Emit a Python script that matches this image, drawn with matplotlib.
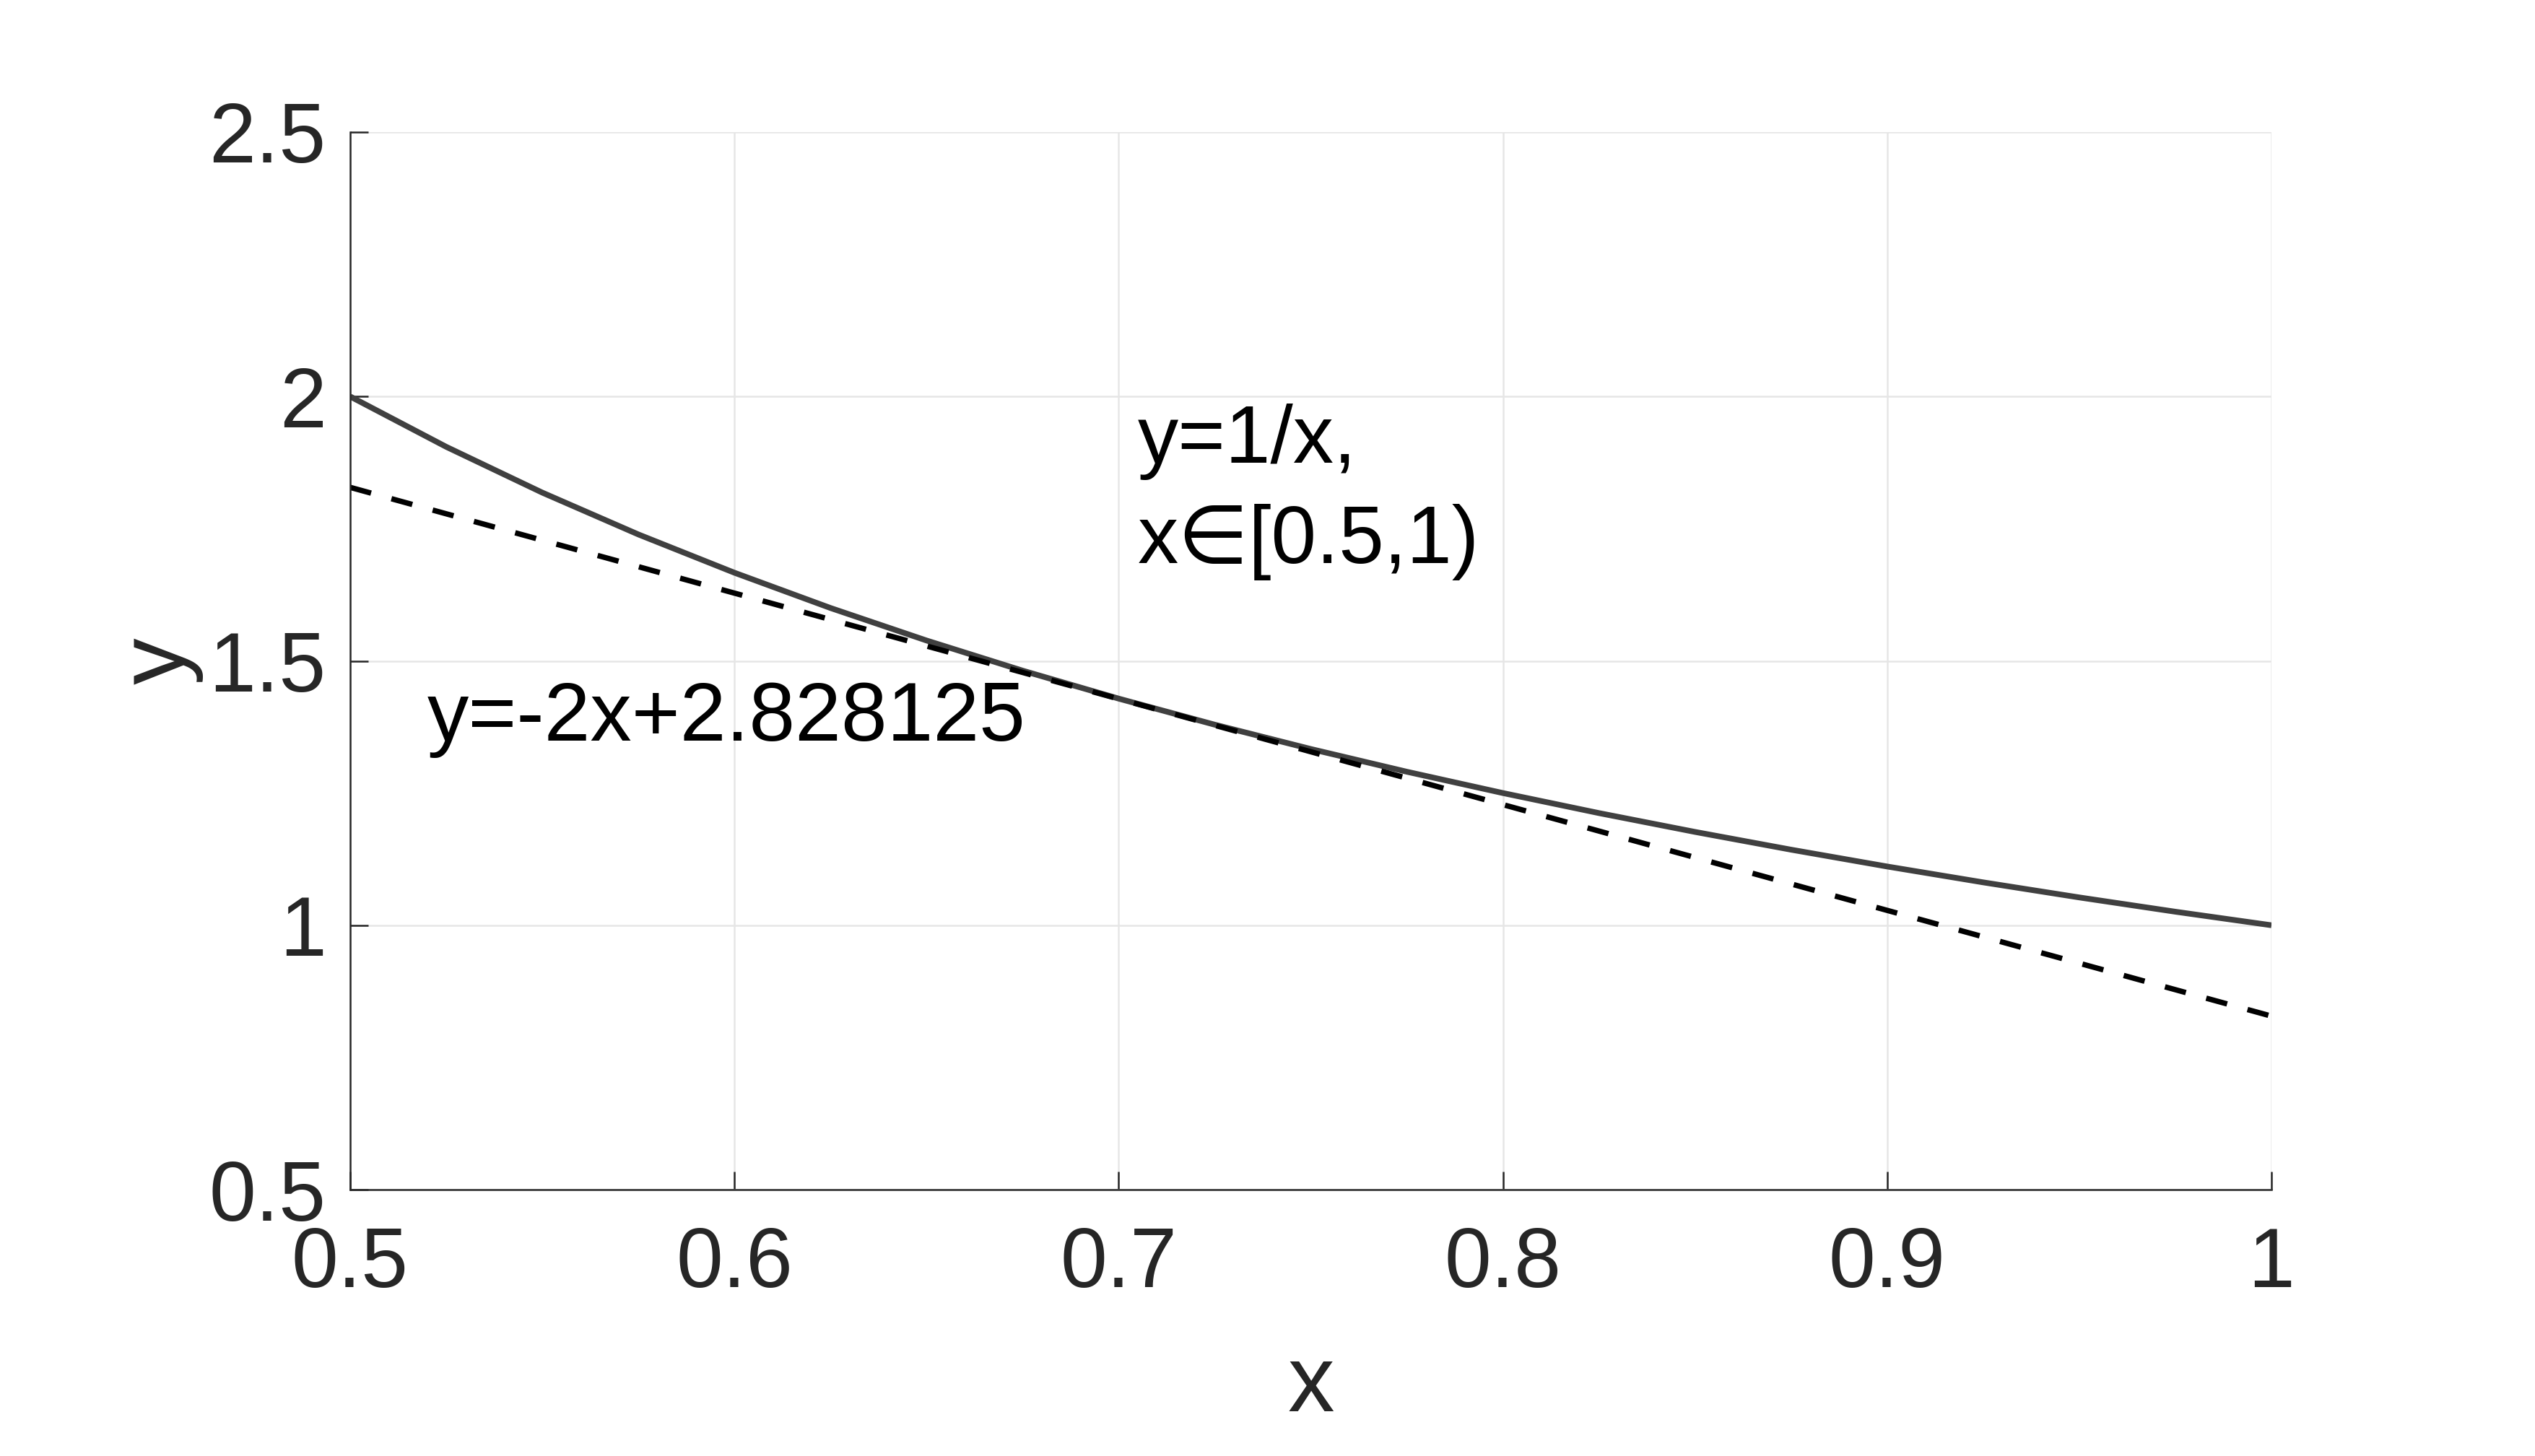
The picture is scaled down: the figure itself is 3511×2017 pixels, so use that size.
import matplotlib
matplotlib.use("Agg")
import matplotlib.pyplot as plt

plt.rcParams['font.family'] = ['Liberation Sans', 'DejaVu Sans']

# curve y = 1/x read at sample points
x_curve = [0.500, 0.525, 0.550, 0.575, 0.600, 0.625, 0.650, 0.675, 0.700, 0.725, 0.750,
           0.775, 0.800, 0.825, 0.850, 0.875, 0.900, 0.925, 0.950, 0.975, 1.000]
y_curve = [2.0000, 1.9048, 1.8182, 1.7391, 1.6667, 1.6000, 1.5385, 1.4815, 1.4286, 1.3793, 1.3333,
           1.2903, 1.2500, 1.2121, 1.1765, 1.1429, 1.1111, 1.0811, 1.0526, 1.0256, 1.0000]
# tangent line y = -2x + 2.828125
x_line = [0.5, 1.0]
y_line = [1.828125, 0.828125]

x_ticks = [0.5, 0.6, 0.7, 0.8, 0.9, 1.0]
x_ticklabels = ['0.5', '0.6', '0.7', '0.8', '0.9', '1']
y_ticks = [0.5, 1.0, 1.5, 2.0, 2.5]
y_ticklabels = ['0.5', '1', '1.5', '2', '2.5']

W, H, DPI = 3511, 2017, 300
fig = plt.figure(figsize=(W / DPI, H / DPI), dpi=DPI)
left, right = 485 / W, 3146 / W
bottom, top = 1 - 1648 / H, 1 - 183 / H
ax = fig.add_axes([left, bottom, right - left, top - bottom])

ax.plot(x_curve, y_curve, color='#404040', lw=1.9, solid_capstyle='butt')
ax.plot(x_line, y_line, color='black', lw=1.8, dashes=(4.0, 3.9))

ax.set_xlim(0.5, 1.0)
ax.set_ylim(0.5, 2.5)
ax.set_xticks(x_ticks)
ax.set_xticklabels(x_ticklabels)
ax.set_yticks(y_ticks)
ax.set_yticklabels(y_ticklabels)

ax.grid(True, color='#e6e6e6', lw=0.6)
ax.set_axisbelow(True)
for s in ['top', 'right']:
    ax.spines[s].set_visible(False)
for s in ['left', 'bottom']:
    ax.spines[s].set_color('#262626')
    ax.spines[s].set_linewidth(0.6)

ax.tick_params(axis='both', direction='in', length=6, width=0.6, color='#262626',
               labelsize=28, labelcolor='#262626')
ax.tick_params(axis='x', pad=12)
ax.tick_params(axis='y', pad=8)

ax.set_xlabel('x', fontsize=31, color='#262626', labelpad=13)
ax.set_ylabel('y', fontsize=31, color='#262626', labelpad=2)

ax.text(0.705, 1.82, 'y=1/x,\nx\u2208[0.5,1)', fontsize=27, color='black',
        ha='left', va='center', linespacing=1.4)
ax.text(0.52, 1.39, 'y=-2x+2.828125', fontsize=27.5, color='black',
        ha='left', va='center')

fig.savefig('out.png', dpi=DPI, facecolor='white')
